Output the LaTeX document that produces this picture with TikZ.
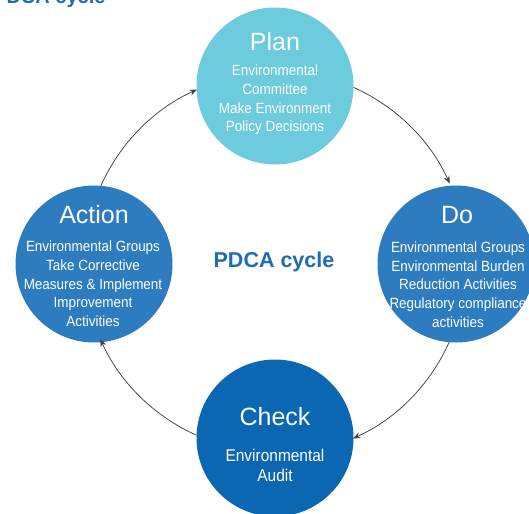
\documentclass[tikz,border=0pt]{standalone}
\usepackage{fontspec}
\setmainfont{Liberation Sans}
\newfontfamily\condfont[FakeStretch=0.91]{Liberation Sans}
\usetikzlibrary{arrows.meta}
\definecolor{planc}{RGB}{108,203,221}
\definecolor{doc}{RGB}{46,124,192}
\definecolor{checkc}{RGB}{11,103,178}
\definecolor{titlec}{RGB}{28,109,181}
\definecolor{arrc}{RGB}{65,65,65}
\tikzset{
  stepcircle/.style={circle, draw=none, minimum size=157pt, inner sep=0pt, outer sep=0pt},
  steptitle/.style={text=white, inner sep=0pt, font=\fontsize{25}{30}\selectfont},
  stepbody/.style={text=white, inner sep=0pt, align=center, font=\condfont\fontsize{14.8}{18.7}\selectfont},
  checkbody/.style={text=white, inner sep=0pt, align=center, font=\condfont\fontsize{17}{20}\selectfont},
  cyclelabel/.style={text=titlec, inner sep=0pt, font=\bfseries\fontsize{21.5}{25}\selectfont},
  headlabel/.style={text=titlec, inner sep=0pt, font=\bfseries\fontsize{20}{24}\selectfont},
  cyclearrow/.style={draw=arrc, line width=0.75pt, -{Stealth[length=7.5pt,width=6pt]}}
}
\begin{document}
\begin{tikzpicture}[x=1pt,y=1pt]
\useasboundingbox (0,0) rectangle (529,-513);
\clip (0,0) rectangle (529,-513);

% circles
\node[stepcircle, fill=planc] (plan) at (275,-86) {};
\node[stepcircle, fill=doc] (do) at (456,-264) {};
\node[stepcircle, fill=checkc] (check) at (275,-438) {};
\node[stepcircle, fill=doc] (action) at (94,-264) {};

% titles
\node[steptitle] (plant) at (275,-42) {Plan};
\node[steptitle] (dot) at (457,-215) {Do};
\node[steptitle] (checkt) at (275,-417) {Check};
\node[steptitle] (actiont) at (94,-215) {Action};

% body texts
\node[stepbody] (planb) at (275,-100) {Environmental\\Committee\\Make Environment\\Policy Decisions};
\node[stepbody] (dob) at (458,-284.5) {Environmental Groups\\Environmental Burden\\Reduction Activities\\Regulatory compliance\\activities};
\node[checkbody] (checkb) at (275,-465) {Environmental\\Audit};
\node[stepbody] (actionb) at (93,-284) {Environmental Groups\\Take Corrective\\Measures \& Implement\\Improvement\\Activities};

% centre label and clipped heading
\node[cyclelabel] (pdca) at (274,-262) {PDCA cycle};
\node[headlabel, anchor=base west] (head) at (-7,-4) {PDCA cycle};

% cycle arrows (arcs about the cycle centre)
\draw[cyclearrow] (plan.-1.5) arc[start angle=65.9, end angle=24.1, radius=190.7];
\draw[cyclearrow] (do.-95) arc[start angle=-24.1, end angle=-65.9, radius=190.7];
\draw[cyclearrow] (check.178.5) arc[start angle=-114.1, end angle=-155.9, radius=190.7];
\draw[cyclearrow] (action.85) arc[start angle=155.9, end angle=114.1, radius=190.7];
\end{tikzpicture}
\end{document}
